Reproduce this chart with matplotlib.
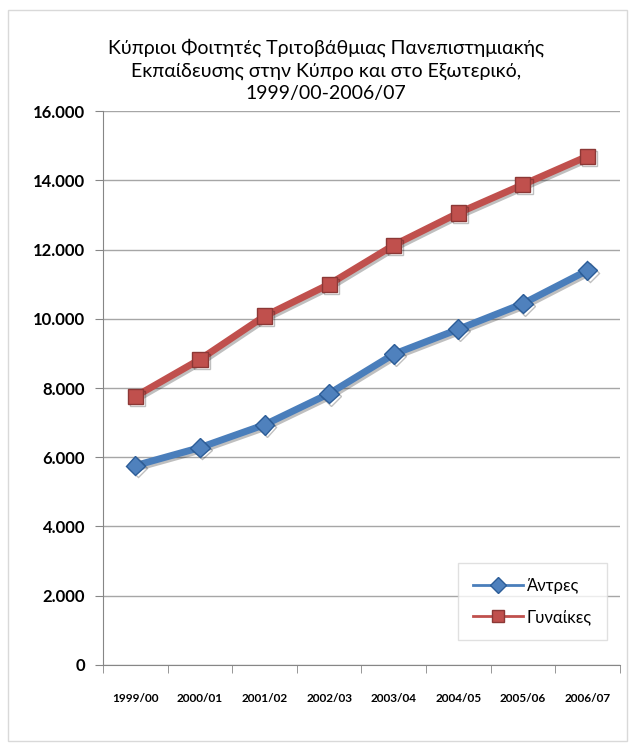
import matplotlib.pyplot as plt
import matplotlib.patheffects as pe
from matplotlib.patches import Rectangle
from matplotlib.ticker import FuncFormatter, FixedLocator

plt.rcParams['font.family'] = ['Lato', 'DejaVu Sans']

years = ["1999/00", "2000/01", "2001/02", "2002/03", "2003/04", "2004/05", "2005/06", "2006/07"]
men = [5760, 6280, 6940, 7840, 8980, 9700, 10440, 11400]
women = [7760, 8830, 10080, 11000, 12130, 13060, 13880, 14700]

title = ("Κύπριοι Φοιτητές Τριτοβάθμιας Πανεπιστημιακής\n"
         "Εκπαίδευσης στην Κύπρο και στο Εξωτερικό,\n"
         "1999/00-2006/07")

fig = plt.figure(figsize=(6.33, 7.47), dpi=100)
fig.patches.append(Rectangle((0.012, 0.008), 0.978, 0.978, transform=fig.transFigure,
                             fill=False, edgecolor="#d9d9d9", linewidth=1))

ax = fig.add_axes([0.163, 0.110, 0.816, 0.741])

x = list(range(len(years)))
shadow = [pe.SimpleLineShadow(offset=(1.5, -1.5), alpha=0.25), pe.Normal()]

ax.plot(x, men, color="#4a7ebb", linewidth=5, marker="D", markersize=10,
        markerfacecolor="#4f81bd", markeredgecolor="#2c5d98", markeredgewidth=1,
        label="Άντρες", path_effects=shadow, zorder=3)
ax.plot(x, women, color="#c0504d", linewidth=5, marker="s", markersize=11,
        markerfacecolor="#c0504d", markeredgecolor="#8c3836", markeredgewidth=1,
        label="Γυναίκες", path_effects=shadow, zorder=3)

ax.set_xlim(-0.5, len(years) - 0.5)
ax.set_ylim(0, 16000)
ax.set_yticks(range(0, 16001, 2000))
ax.yaxis.set_major_formatter(FuncFormatter(lambda v, p: f"{int(v):,}".replace(",", ".")))
ax.grid(axis="y", color="#a6a6a6", linewidth=1)
ax.set_axisbelow(True)

ax.set_xticks(x)
ax.set_xticklabels(years, fontsize=8.5, fontweight="bold")
ax.xaxis.set_minor_locator(FixedLocator([i - 0.5 for i in range(len(years) + 1)]))
ax.tick_params(axis="x", which="major", length=0, pad=20)
ax.tick_params(axis="x", which="minor", length=6, color="#868686")
ax.tick_params(axis="y", length=6, color="#868686", labelsize=12, pad=7)
for lbl in ax.get_yticklabels():
    lbl.set_fontweight("bold")

for side in ["top", "right"]:
    ax.spines[side].set_visible(False)
for side in ["left", "bottom"]:
    ax.spines[side].set_color("#868686")

leg = ax.legend(loc="lower right", bbox_to_anchor=(0.975, 0.045), fontsize=12,
                frameon=True, fancybox=False, edgecolor="#d9d9d9",
                handlelength=3.0, handletextpad=0.2, labelspacing=0.9,
                borderpad=0.9, borderaxespad=0)
leg.get_frame().set_linewidth(1)
for line in leg.get_lines():
    line.set_linewidth(2)
    line.set_markersize(8)
    line.set_path_effects([])

fig.text(0.515, 0.906, title, ha="center", va="center", fontsize=14, linespacing=1.35)

fig.savefig("out.png", dpi=100)
